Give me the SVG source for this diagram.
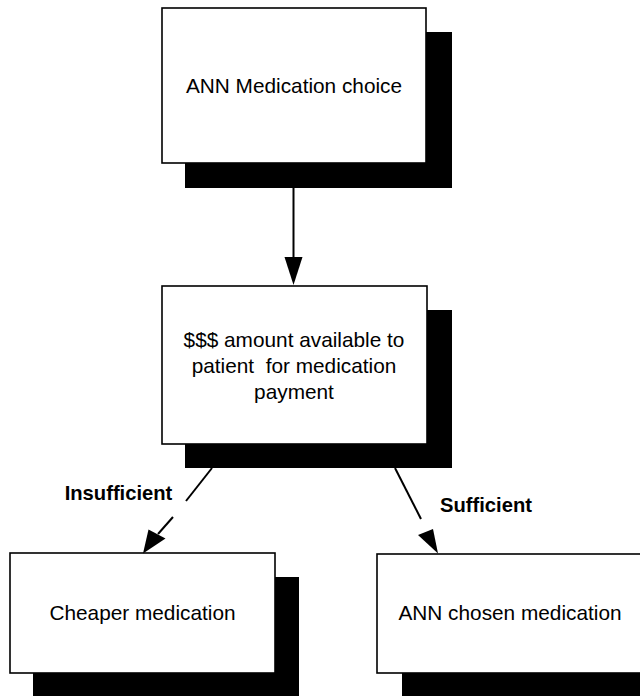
<svg xmlns="http://www.w3.org/2000/svg" width="640" height="696" viewBox="0 0 640 696">
  <style>
    .shadow { fill: #000; }
    .box { fill: #fff; stroke: #000; stroke-width: 1.6; }
    .label { font-family: "Liberation Sans", Arial, sans-serif; font-size: 20.8px; fill: #000; text-anchor: middle; }
    .edge-label { font-family: "Liberation Sans", Arial, sans-serif; font-size: 20.2px; font-weight: bold; fill: #000; text-anchor: middle; }
    .line { stroke: #000; stroke-width: 2; fill: none; }
    .head { fill: #000; stroke: none; }
  </style>
  <rect width="640" height="696" fill="#fff"/>

  <!-- Neural network recommendation -->
  <g id="node-choice">
    <rect class="shadow" x="185" y="32" width="267" height="156"/>
    <rect class="box" x="162" y="8" width="264" height="155"/>
    <text class="label" x="294" y="93">ANN Medication choice</text>
  </g>

  <!-- Budget check -->
  <g id="node-budget">
    <rect class="shadow" x="185" y="310" width="267" height="158"/>
    <rect class="box" x="162" y="286" width="265" height="158"/>
    <text class="label" x="294" y="347">$$$ amount available to</text>
    <text class="label" x="294" y="373" xml:space="preserve">patient  for medication</text>
    <text class="label" x="294" y="399">payment</text>
  </g>

  <!-- Outcome: insufficient funds -->
  <g id="node-cheaper">
    <rect class="shadow" x="33" y="577" width="266" height="122"/>
    <rect class="box" x="10" y="553" width="265" height="120"/>
    <text class="label" x="142.5" y="620">Cheaper medication</text>
  </g>

  <!-- Outcome: sufficient funds -->
  <g id="node-chosen">
    <rect class="shadow" x="402" y="577" width="250" height="122"/>
    <rect class="box" x="377" y="554" width="270" height="119"/>
    <text class="label" x="510" y="620">ANN chosen medication</text>
  </g>

  <g id="connectors">
    <!-- choice -> budget -->
    <line class="line" x1="293.5" y1="188" x2="293.5" y2="258"/>
    <polygon class="head" points="284.5,257 302.5,257 293.5,285"/>

    <!-- budget -> cheaper (Insufficient) -->
    <line class="line" x1="212" y1="468" x2="186" y2="501"/>
    <line class="line" x1="173" y1="517" x2="158" y2="534"/>
    <polygon class="head" points="148.5,529.5 165.5,538.5 143,553.5"/>
    <text class="edge-label" x="118.5" y="500">Insufficient</text>

    <!-- budget -> chosen (Sufficient) -->
    <line class="line" x1="395" y1="468" x2="421" y2="519"/>
    <polygon class="head" points="418,535 433,529 438,553.5"/>
    <text class="edge-label" x="486" y="512">Sufficient</text>
  </g>
</svg>
